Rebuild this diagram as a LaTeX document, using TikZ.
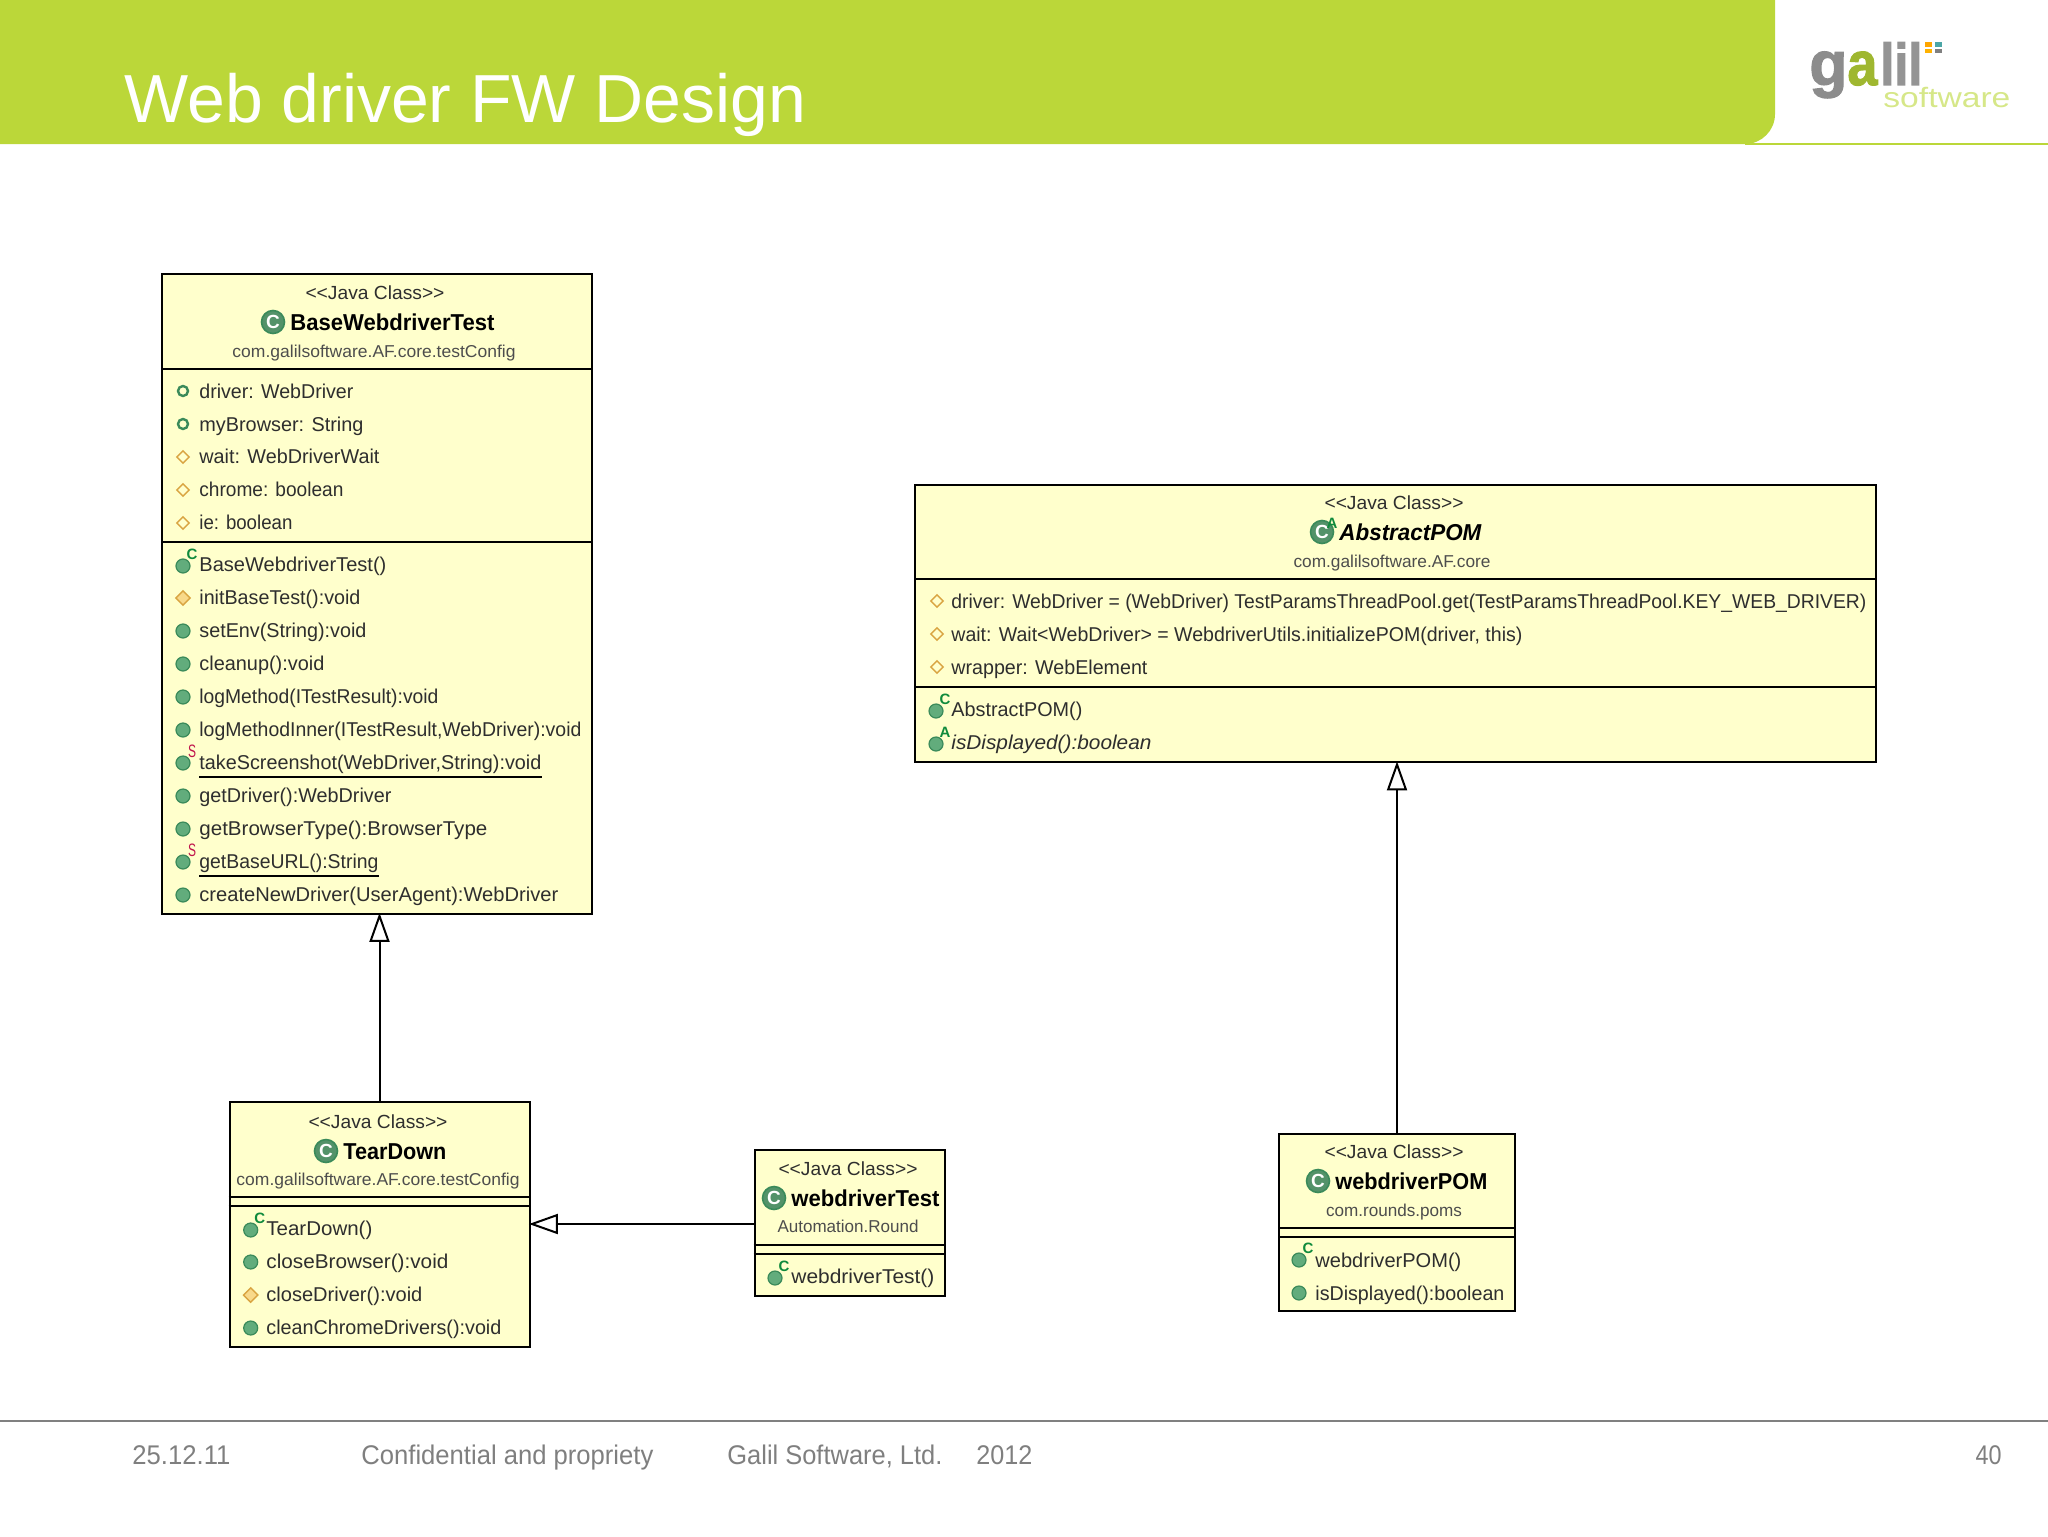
\documentclass[tikz,border=0pt]{standalone}
\usepackage{fontspec}
\usepackage{graphicx}
\setmainfont{Liberation Sans}
\newfontface\logofont{Liberation Sans Bold}[FakeBold=2]
\usetikzlibrary{arrows.meta,shapes.geometric}
\definecolor{hdrgreen}{HTML}{BBD739}
\definecolor{boxfill}{HTML}{FFFFCC}
\definecolor{txtc}{HTML}{2E2E2E}
\definecolor{dotfill}{HTML}{62AC7C}
\definecolor{dotline}{HTML}{3A8A5A}
\definecolor{dmdline}{HTML}{D9A441}
\definecolor{dmdfill}{HTML}{F8D98A}
\definecolor{footc}{HTML}{7F7F7F}
\definecolor{supred}{HTML}{C0144C}
\definecolor{supgreen}{HTML}{0F8A3C}
\newcounter{icn}
\newcommand{\fitw}[2]{\resizebox{\dimexpr #1pt/2\relax}{\height}{#2}}
\tikzset{
  box/.style={draw=black,fill=boxfill,line width=1pt,inner sep=0pt,anchor=north west},
  sep/.style={draw=black,line width=1pt},
  rowtxt/.style={anchor=west,inner sep=0pt,text=txtc,font=\fontsize{10}{10}\selectfont,text height=8.3pt,text depth=1.2pt},
  ctxt/.style={anchor=center,inner sep=0pt,text=txtc,text height=8.3pt,text depth=1.2pt},
  smalltxt/.style={ctxt,font=\fontsize{9.5}{10}\selectfont},
  pkgtxt/.style={ctxt,font=\fontsize{8.6}{9}\selectfont,text=txtc!85!white,text height=7pt},
  titletxt/.style={anchor=west,inner sep=0pt,text=black,font=\bfseries\fontsize{11.5}{12}\selectfont,text height=9.3pt,text depth=1.2pt},
  pub/.style={circle,fill=dotfill,draw=dotline,line width=.6pt,minimum size=7pt,inner sep=0pt},
  ring/.style={circle,fill=boxfill,draw=dotline,line width=1.2pt,minimum size=5pt,inner sep=0pt},
  dmdhol/.style={diamond,aspect=1,fill=boxfill,draw=dmdline,line width=.7pt,minimum size=6.5pt,inner sep=0pt},
  dmdfil/.style={diamond,aspect=1,fill=dmdfill,draw=dmdline,line width=.7pt,minimum size=7.5pt,inner sep=0pt},
  cls/.style={circle,fill=dotfill!85!black,draw=dotline,line width=.8pt,minimum size=11.5pt,inner sep=0pt,text=white,font=\bfseries\fontsize{9.5}{9.5}\selectfont},
  supb/.style={inner sep=0pt,font=\bfseries\fontsize{7.5}{8}\selectfont},
  gen/.style={draw=black,line width=1pt,-{Triangle[open,length=14.5pt,width=10pt,fill=white,line width=1pt]},shorten >=-.8pt},
  foot/.style={anchor=base west,inner sep=0pt,text=footc,font=\fontsize{13.5}{14}\selectfont},
  logo/.style={anchor=base west,inner sep=0pt},
}
% icons: x, y of the row
\newcommand{\ipub}[2]{\stepcounter{icn}\node[pub] (ic\theicn) at (#1,#2+1) {};}
\newcommand{\iring}[2]{\stepcounter{icn}\node[ring] (ic\theicn) at (#1,#2) {};}
\newcommand{\idh}[2]{\stepcounter{icn}\node[dmdhol] (ic\theicn) at (#1,#2+1) {};}
\newcommand{\idf}[2]{\stepcounter{icn}\node[dmdfil] (ic\theicn) at (#1,#2+1) {};}
\newcommand{\icsup}[4]{\stepcounter{icn}\node[pub] (ic\theicn) at (#1,#2+2) {};\stepcounter{icn}\node[supb,text=#3] (ic\theicn) at (#1+9,#2-10) {#4};}
\newcommand{\issup}[2]{\stepcounter{icn}\node[pub] (ic\theicn) at (#1,#2+2) {};\stepcounter{icn}\node[inner sep=0pt,text=supred,font=\fontsize{9}{9}\selectfont] (ic\theicn) at (#1+9,#2-10) {\fitw{8}{S}};}
\newcommand{\rw}[5]{\node[rowtxt] (#1) at (#2,#3) {\fitw{#4}{#5}};}
\newcommand{\jc}{{<}{<}Java Class{>}{>}}
\begin{document}
\begin{tikzpicture}[x=0.5pt,y=-0.5pt]
\useasboundingbox (0,0) rectangle (2048,1536);
% header
\fill[hdrgreen] (0,0) -- (1775,0) -- (1775,114) arc[start angle=0,end angle=90,radius=30] -- (0,144) -- cycle;
\draw[hdrgreen,line width=1pt] (1745,143.5) -- (2048,143.5);
\node[anchor=base west,inner sep=0pt,text=white,font=\fontsize{34}{34}\selectfont] (title) at (124,122) {\fitw{682}{Web driver FW Design}};
% logo
\node[logo,text=black!45,font=\logofont\fontsize{31}{31}\selectfont] (lgg) at (1809,85) {\fitw{38}{g}};
\node[logo,text=hdrgreen!85!black,font=\logofont\fontsize{31}{31}\selectfont] (lga) at (1847,85) {\fitw{30}{a}};
\node[logo,text=black!42,font=\logofont\fontsize{29.5}{30}\selectfont] (lgl) at (1880,85) {\fitw{42}{lil}};
\node[logo,text=hdrgreen!60!white,font=\fontsize{14}{14}\selectfont] (lgs) at (1883,108) {\fitw{127}{software}};
\fill[orange!70!yellow] (1925,42) rectangle (1932,47);
\fill[teal!70] (1935,42) rectangle (1942,47);
\fill[orange!60!yellow] (1925,49) rectangle (1932,53);
\fill[black!50] (1935,49) rectangle (1942,53);
% BaseWebdriverTest
\node[box,minimum width=215pt,minimum height=320pt] (base) at (161,272.5) {};
\draw[sep] (base.west |- 0,369) -- (base.east |- 0,369);
\draw[sep] (base.west |- 0,542) -- (base.east |- 0,542);
\node[smalltxt] (b0) at (375,292) {\fitw{139}{\jc}};
\stepcounter{icn}\node[cls] (bI) at (273,322) {C};
\node[titletxt] (bT) at (290,322) {\fitw{204}{BaseWebdriverTest}};
\node[pkgtxt] (bP) at (374,352) {\fitw{283}{com.galilsoftware.AF.core.testConfig}};
\iring{183}{391}\rw{b1}{199}{391}{154}{driver: WebDriver}
\iring{183}{424}\rw{b2}{199}{424}{164}{myBrowser: String}
\idh{183}{456}\rw{b3}{199}{456}{180}{wait: WebDriverWait}
\idh{183}{489}\rw{b4}{199}{489}{144}{chrome: boolean}
\idh{183}{522}\rw{b5}{199}{522}{93}{ie: boolean}
\icsup{183}{564}{supgreen}{C}\rw{b6}{199}{564.5}{187}{BaseWebdriverTest()}
\idf{183}{597}\rw{b7}{199}{597}{161}{initBaseTest():void}
\ipub{183}{630}\rw{b8}{199}{630}{167}{setEnv(String):void}
\ipub{183}{663}\rw{b9}{199}{663}{125}{cleanup():void}
\ipub{183}{696}\rw{b10}{199}{696}{239}{logMethod(ITestResult):void}
\ipub{183}{729}\rw{b11}{199}{729}{382}{logMethodInner(ITestResult,WebDriver):void}
\issup{183}{761}\rw{b12}{199}{762}{342}{takeScreenshot(WebDriver,String):void}
\draw[black,line width=.8pt] (b12.west |- 0,777) -- (b12.east |- 0,777);
\ipub{183}{795}\rw{b13}{199}{795}{192}{getDriver():WebDriver}
\ipub{183}{828}\rw{b14}{199}{828}{288}{getBrowserType():BrowserType}
\issup{183}{860}\rw{b15}{199}{861}{179}{getBaseURL():String}
\draw[black,line width=.8pt] (b15.west |- 0,876) -- (b15.east |- 0,876);
\ipub{183}{894}\rw{b16}{199}{894}{359}{createNewDriver(UserAgent):WebDriver}
% TearDown
\node[box,minimum width=150pt,minimum height=122.5pt] (tear) at (228.5,1101) {};
\draw[sep] (tear.west |- 0,1197) -- (tear.east |- 0,1197);
\draw[sep] (tear.west |- 0,1206) -- (tear.east |- 0,1206);
\node[smalltxt] (t0) at (378,1121) {\fitw{139}{\jc}};
\stepcounter{icn}\node[cls] (tI) at (326,1151) {C};
\node[titletxt] (tT) at (343,1151) {\fitw{103}{TearDown}};
\node[pkgtxt] (tP) at (378,1180) {\fitw{283}{com.galilsoftware.AF.core.testConfig}};
\icsup{250.7}{1228}{supgreen}{C}\rw{t1}{266}{1228}{106}{TearDown()}
\ipub{250.7}{1261}\rw{t2}{266}{1261}{182}{closeBrowser():void}
\idf{250.7}{1294}\rw{t3}{266}{1294}{156}{closeDriver():void}
\ipub{250.7}{1327}\rw{t4}{266}{1327}{235}{cleanChromeDrivers():void}
% webdriverTest
\node[box,minimum width=95pt,minimum height=73pt] (wt) at (753.5,1149) {};
\draw[sep] (wt.west |- 0,1245) -- (wt.east |- 0,1245);
\draw[sep] (wt.west |- 0,1254) -- (wt.east |- 0,1254);
\node[smalltxt] (w0) at (848,1168) {\fitw{139}{\jc}};
\stepcounter{icn}\node[cls] (wI) at (774,1198) {C};
\node[titletxt] (wT) at (791,1198) {\fitw{148}{webdriverTest}};
\node[pkgtxt] (wP) at (848,1227) {\fitw{141}{Automation.Round}};
\icsup{775}{1276}{supgreen}{C}\rw{w1}{791}{1276}{143}{webdriverTest()}
% AbstractPOM
\node[box,minimum width=480.5pt,minimum height=138.5pt] (abs) at (914,484) {};
\draw[sep] (abs.west |- 0,579) -- (abs.east |- 0,579);
\draw[sep] (abs.west |- 0,687) -- (abs.east |- 0,687);
\node[smalltxt] (a0) at (1394,502) {\fitw{139}{\jc}};
\stepcounter{icn}\node[cls] (aI) at (1322,532) {C};
\node[supb,text=supgreen] (aS) at (1332,523) {A};
\node[titletxt,font=\bfseries\itshape\fontsize{11.5}{12}\selectfont] (aT) at (1339,532) {\fitw{142}{AbstractPOM}};
\node[pkgtxt] (aP) at (1392,562) {\fitw{197}{com.galilsoftware.AF.core}};
\idh{937}{600}\rw{a1}{951}{601}{915}{driver: WebDriver = (WebDriver) TestParamsThreadPool.get(TestParamsThreadPool.KEY\_WEB\_DRIVER)}
\idh{937}{633}\rw{a2}{951}{634}{571}{wait: Wait{<}WebDriver{>} = WebdriverUtils.initializePOM(driver, this)}
\idh{937}{666}\rw{a3}{951}{667}{196}{wrapper: WebElement}
\icsup{936}{709}{supgreen}{C}\rw{a4}{951}{709}{131}{AbstractPOM()}
\icsup{936}{742}{supgreen}{A}\node[rowtxt,font=\itshape\fontsize{10}{10}\selectfont] (a5) at (951,742) {\fitw{200}{isDisplayed():boolean}};
% webdriverPOM
\node[box,minimum width=118pt,minimum height=88.5pt] (pom) at (1278,1133) {};
\draw[sep] (pom.west |- 0,1228) -- (pom.east |- 0,1228);
\draw[sep] (pom.west |- 0,1237) -- (pom.east |- 0,1237);
\node[smalltxt] (p0) at (1394,1151) {\fitw{139}{\jc}};
\stepcounter{icn}\node[cls] (pI) at (1318,1181) {C};
\node[titletxt] (pT) at (1335,1181) {\fitw{152}{webdriverPOM}};
\node[pkgtxt] (pP) at (1394,1211) {\fitw{136}{com.rounds.poms}};
\icsup{1299}{1258}{supgreen}{C}\rw{p1}{1315}{1260}{146}{webdriverPOM()}
\ipub{1299}{1292}\rw{p2}{1315}{1293}{189}{isDisplayed():boolean}
% connectors
\path[gen] (tear.north) -- (tear.north |- base.south);
\path[gen] ([yshift=-.5pt]wt.west) -- ([yshift=-.5pt]tear.east |- wt.west);
\path[gen] (pom.north) -- (pom.north |- abs.south);
% footer
\draw[black!50,line width=1pt] (0,1421) -- (2048,1421);
\node[foot] (f1) at (132,1464) {\fitw{98}{25.12.11}};
\node[foot] (f2) at (361,1464) {\fitw{292}{Confidential and propriety}};
\node[foot] (f3) at (727,1464) {\fitw{215}{Galil Software, Ltd.}};
\node[foot] (f4) at (976,1464) {\fitw{56}{2012}};
\node[foot,anchor=base east] (f5) at (2002,1464) {\fitw{26}{40}};
\end{tikzpicture}
\end{document}
